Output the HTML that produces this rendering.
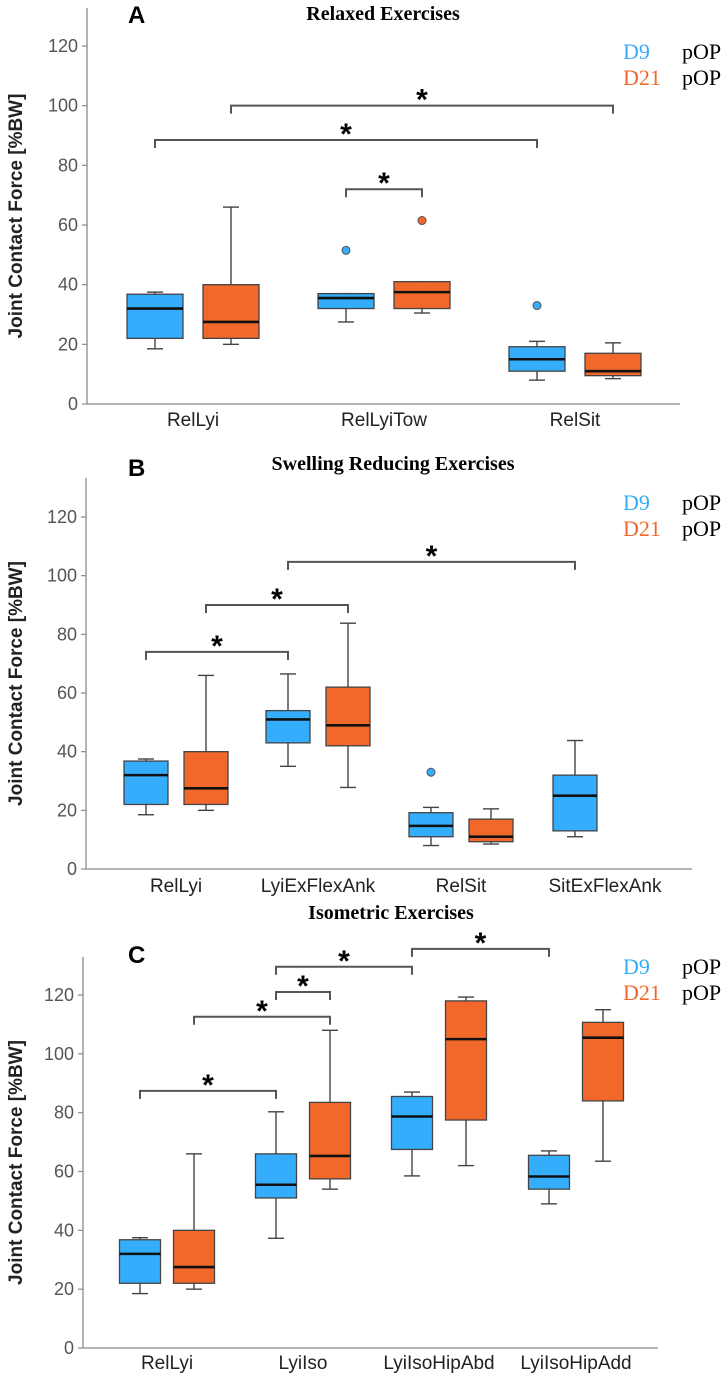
<!DOCTYPE html>
<html><head><meta charset="utf-8"><style>
html,body{margin:0;padding:0;background:#fff;}
svg{display:block;}
text{font-family:"Liberation Sans Narrow","Liberation Sans",sans-serif;}
.serif{font-family:"Liberation Serif",serif;}
</style></head><body>
<svg id="chart" width="728" height="1376" viewBox="0 0 728 1376" xmlns="http://www.w3.org/2000/svg"></svg>
<script>
// ---- data ----
const catsA = ["RelLyi","RelLyiTow","RelSit"];
const d9A  = [[18.5,22,32,36.8,37.5],[27.5,32,35.5,37,37],[8,11,15,19.2,21]];
const d21A = [[20,22,27.5,40,66],[30.5,32,37.5,41,41],[8.5,9.5,11,17,20.5]];
const outD9A = [null,51.5,33];
const outD21A = [null,61.5,null];
const brA = [[0,"d9",2,"d9",88.5],[0,"d21",2,"d21",100],[1,"d9",1,"d21",72]];

const catsB = ["RelLyi","LyiExFlexAnk","RelSit","SitExFlexAnk"];
const d9B  = [[18.5,22,32,36.8,37.5],[35,43,51,54,66.5],[8,11,14.7,19.2,21],[11,13,25,32,43.8]];
const d21B = [[20,22,27.5,40,66],[27.8,42,49,62,83.8],[8.5,9.3,11,17,20.5],null];
const outD9B = [null,null,33,null];
const outD21B = [null,null,null,null];
const brB = [[0,"d9",1,"d9",74],[0,"d21",1,"d21",90],[1,"d9",3,"d9",104.7]];

const catsC = ["RelLyi","LyiIso","LyiIsoHipAbd","LyiIsoHipAdd"];
const d9C  = [[18.5,22,32,36.8,37.5],[37.3,51,55.5,66,80.3],[58.5,67.5,78.7,85.5,87],[49,54,58.3,65.5,67]];
const d21C = [[20,22,27.5,40,66],[54,57.5,65.3,83.5,108],[62,77.5,105,118,119.3],[63.5,84,105.5,110.7,115]];
const outD9C = [null,null,null,null];
const outD21C = [null,null,null,null];
const brC = [[0,"d9",1,"d9",87.4],[0,"d21",1,"d21",112.6],[1,"d9",1,"d21",121],[1,"d9",2,"d9",129.6],[2,"d9",3,"d9",135.7]];

const yTicks = [0,20,40,60,80,100,120];
const BLUE="#33adfc", ORANGE="#f2682b";

const NS="http://www.w3.org/2000/svg";
const svg=document.getElementById("chart");
function mk(tag,attrs,parent,txt){const e=document.createElementNS(NS,tag);for(const k in attrs)e.setAttribute(k,attrs[k]);if(txt!==undefined)e.textContent=txt;(parent||svg).appendChild(e);return e;}

function panel(p){
  const g=mk("g",{});
  
  
  const y=v=>p.y0-(v/120)*(p.y0-p.y120);
  const ya=mk("line",{x1:p.ax,y1:p.top,x2:p.ax,y2:p.y0,stroke:"#8a8a8a","stroke-width":1.3},g);
  
  const xa=mk("line",{x1:p.ax,y1:p.y0,x2:p.xend,y2:p.y0,stroke:"#8a8a8a","stroke-width":1.3},g);
  
  yTicks.forEach(t=>{
    mk("line",{x1:p.ax-5,y1:y(t),x2:p.ax,y2:y(t),stroke:"#8a8a8a","stroke-width":1.2},g);
    const tl=mk("text",{x:p.ax-9,y:y(t)+6,"text-anchor":"end","font-size":18,fill:"#555"},g,String(t));
    
  });
  const yt=mk("text",{x:0,y:0,transform:`translate(${p.ytx},${(p.top+p.y0)/2+10}) rotate(-90)`,"text-anchor":"middle","font-size":19,"font-weight":"bold",fill:"#222",style:"font-family:'Liberation Sans',sans-serif"},g,"Joint Contact Force [%BW]");
  
  const ti=mk("text",{x:p.tx,y:p.ty,"text-anchor":"middle","font-size":20,"font-weight":"bold",fill:"#000",class:"serif"},g,p.title);
  
  const le=mk("text",{x:128,y:p.ly,"font-size":24,"font-weight":"bold",fill:"#000",style:"font-family:'Liberation Sans',sans-serif"},g,p.letter);
  
  const l1=mk("text",{x:623,y:p.lgy,"font-size":22,class:"serif",fill:BLUE},g,"D9");
  
  mk("text",{x:682,y:p.lgy,"font-size":22,class:"serif",fill:"#000"},g,"pOP");
  const l2=mk("text",{x:623,y:p.lgy+26,"font-size":22,class:"serif",fill:ORANGE},g,"D21");
  
  mk("text",{x:682,y:p.lgy+26,"font-size":22,class:"serif",fill:"#000"},g,"pOP");
  const cx=(i,s)=>p.cx[i]+(s==="d9"?-p.off:p.off);
  function box(i,s,v,col){
    const x=cx(i,s),w=p.bw;
    const bg=mk("g",{},g);
    
    
    mk("line",{x1:x,y1:y(v[0]),x2:x,y2:y(v[4]),stroke:"#444","stroke-width":1.4},bg);
    mk("line",{x1:x-8,y1:y(v[0]),x2:x+8,y2:y(v[0]),stroke:"#444","stroke-width":1.4},bg);
    mk("line",{x1:x-8,y1:y(v[4]),x2:x+8,y2:y(v[4]),stroke:"#444","stroke-width":1.4},bg);
    mk("rect",{x:x-w/2,y:y(v[3]),width:w,height:y(v[1])-y(v[3]),fill:col,stroke:"#444","stroke-width":1.3},bg);
    mk("line",{x1:x-w/2,y1:y(v[2]),x2:x+w/2,y2:y(v[2]),stroke:"#111","stroke-width":2.6},bg);
  }
  p.cats.forEach((c,i)=>{
    if(p.d9[i])box(i,"d9",p.d9[i],BLUE);
    if(p.d21[i])box(i,"d21",p.d21[i],ORANGE);
    if(p.o9[i]!=null){const o=mk("circle",{cx:cx(i,"d9"),cy:y(p.o9[i]),r:4,fill:BLUE,stroke:"#555","stroke-width":1},g);}
    if(p.o21[i]!=null){const o=mk("circle",{cx:cx(i,"d21"),cy:y(p.o21[i]),r:4,fill:ORANGE,stroke:"#555","stroke-width":1},g);}
    const cl=mk("text",{x:p.cx[i],y:p.cly,"text-anchor":"middle","font-size":19,fill:"#222"},g,c);
    
  });
  p.br.forEach(b=>{
    const x1=cx(b[0],b[1]),x2=cx(b[2],b[3]),yy=y(b[4]);
    const bg=mk("g",{},g);
    
    
    mk("path",{d:`M${x1},${yy+8}V${yy}H${x2}V${yy+8}`,fill:"none",stroke:"#555","stroke-width":2},bg);
    mk("text",{x:(x1+x2)/2,y:yy+4,"text-anchor":"middle","font-size":30,"font-weight":"bold",fill:"#000",style:"font-family:'Liberation Sans',sans-serif"},bg,"*");
  });
}
panel({letter:"A",title:"Relaxed Exercises",tx:383,ty:20,ly:23,lgy:59,cats:catsA,d9:d9A,d21:d21A,o9:outD9A,o21:outD21A,br:brA,
  ax:87,top:8,xend:680,y0:404,y120:46,ytx:22,cx:[193,384,575],off:38,bw:56,cly:426});
panel({letter:"B",title:"Swelling Reducing Exercises",tx:393,ty:470,ly:476,lgy:510,cats:catsB,d9:d9B,d21:d21B,o9:outD9B,o21:outD21B,br:brB,
  ax:86,top:478,xend:692,y0:869,y120:517,ytx:22,cx:[176,318,461,605],off:30,bw:44,cly:892});
panel({letter:"C",title:"Isometric Exercises",tx:391,ty:919,ly:963,lgy:974,cats:catsC,d9:d9C,d21:d21C,o9:outD9C,o21:outD21C,br:brC,
  ax:83,top:957,xend:658,y0:1348,y120:995,ytx:22,cx:[167,303,439,576],off:27,bw:41,cly:1369});
</script>
</body></html>
